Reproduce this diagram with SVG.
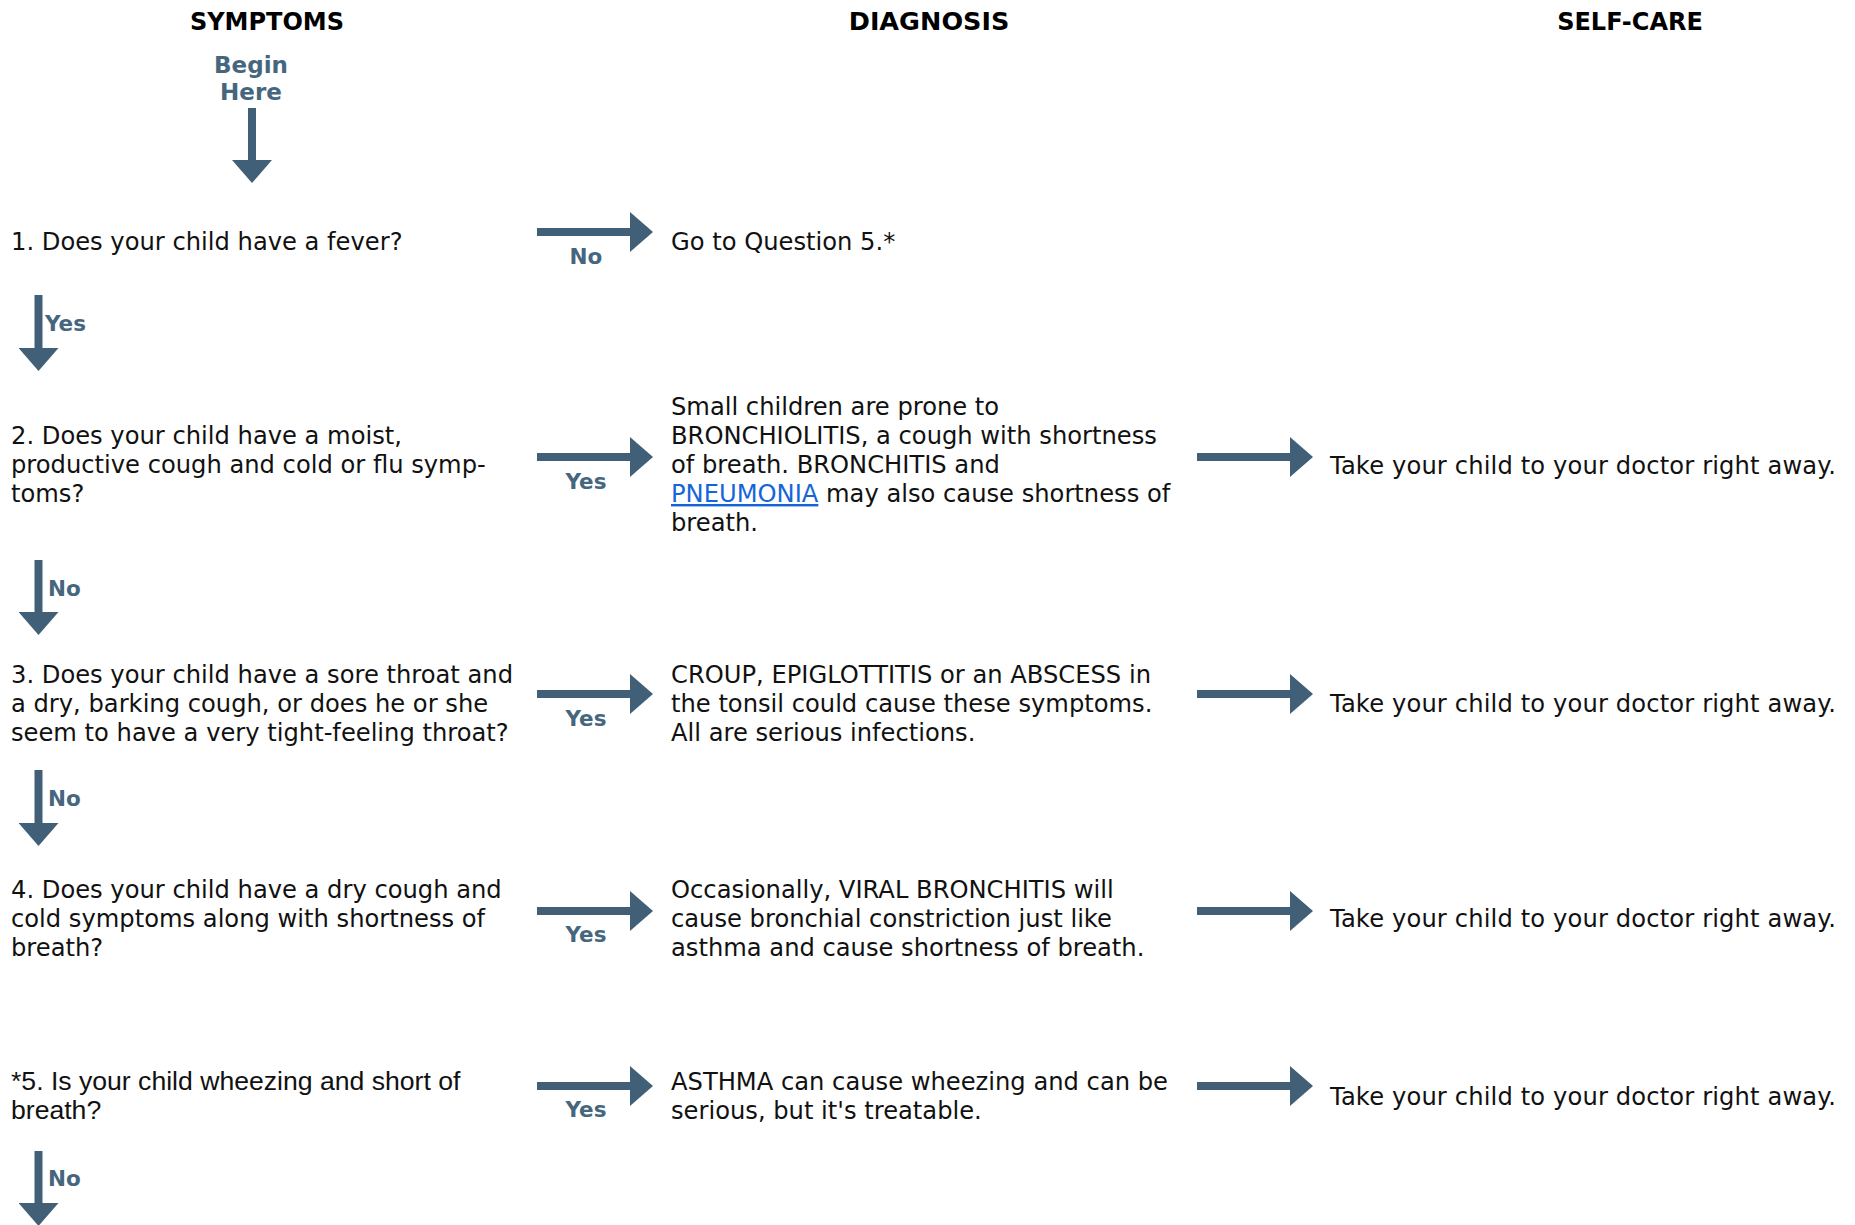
<svg xmlns="http://www.w3.org/2000/svg" width="1855" height="1225" viewBox="0 0 1855 1225">
<style>
.hd{font-family:"DejaVu Sans",Verdana,sans-serif;font-weight:bold;font-size:24px;fill:#000;text-anchor:middle}
.t{font-family:"DejaVu Sans",Verdana,sans-serif;font-size:24.2px;fill:#111}
.a5{font-family:"Liberation Sans",Arial,sans-serif;font-size:26.6px;fill:#111}
.lb{font-family:"DejaVu Sans",Tahoma,sans-serif;font-weight:bold;font-size:21.5px;fill:#46667e}
.lbc{text-anchor:middle}
.lnk{fill:#1565d8;text-decoration:underline}
.ar{stroke:#416078;stroke-width:8;fill:none;marker-end:url(#ah)}
</style>
<defs>
<marker id="ah" markerUnits="userSpaceOnUse" markerWidth="23" markerHeight="40" refX="0" refY="20" orient="auto">
<path d="M0,0 L23,20 L0,40 Z" fill="#416078"/>
</marker>
</defs>
<rect width="1855" height="1225" fill="#fff"/>
<g id="headers">
<text class="hd" x="267" y="30">SYMPTOMS</text>
<text class="hd" x="929" y="30" style="font-size:25.5px">DIAGNOSIS</text>
<text class="hd" x="1630" y="30">SELF-CARE</text>
</g>
<g id="begin">
<text class="lb lbc" x="251" y="73" style="font-size:23px">Begin</text>
<text class="lb lbc" x="251" y="100" style="font-size:23px">Here</text>
</g>
<g id="q1"><text class="t" x="11" y="250">1. Does your child have a fever?</text></g>
<g id="d1"><text class="t" x="671" y="250">Go to Question 5.*</text></g>
<g id="q2"><text class="t" x="11" y="444">2. Does your child have a moist,<tspan x="11" y="473">productive cough and cold or flu symp-</tspan><tspan x="11" y="502">toms?</tspan></text></g>
<g id="d2"><text class="t" x="671" y="415">Small children are prone to<tspan x="671" y="444">BRONCHIOLITIS, a cough with shortness</tspan><tspan x="671" y="473">of breath. BRONCHITIS and</tspan><tspan x="671" y="502"><tspan class="lnk">PNEUMONIA</tspan> may also cause shortness of</tspan><tspan x="671" y="531">breath.</tspan></text></g>
<g id="s2"><text class="t" x="1330" y="474" textLength="506">Take your child to your doctor right away.</text></g>
<g id="q3"><text class="t" x="11" y="683">3. Does your child have a sore throat and<tspan x="11" y="712">a dry, barking cough, or does he or she</tspan><tspan x="11" y="741">seem to have a very tight-feeling throat?</tspan></text></g>
<g id="d3"><text class="t" x="671" y="683">CROUP, EPIGLOTTITIS or an ABSCESS in<tspan x="671" y="712">the tonsil could cause these symptoms.</tspan><tspan x="671" y="741">All are serious infections.</tspan></text></g>
<g id="s3"><text class="t" x="1330" y="712" textLength="506">Take your child to your doctor right away.</text></g>
<g id="q4"><text class="t" x="11" y="898">4. Does your child have a dry cough and<tspan x="11" y="927">cold symptoms along with shortness of</tspan><tspan x="11" y="956">breath?</tspan></text></g>
<g id="d4"><text class="t" x="671" y="898">Occasionally, VIRAL BRONCHITIS will<tspan x="671" y="927">cause bronchial constriction just like</tspan><tspan x="671" y="956">asthma and cause shortness of breath.</tspan></text></g>
<g id="s4"><text class="t" x="1330" y="927" textLength="506">Take your child to your doctor right away.</text></g>
<g id="q5"><text class="a5" x="11" y="1090">*5. Is your child wheezing and short of<tspan x="11" y="1119">breath?</tspan></text></g>
<g id="d5"><text class="t" x="671" y="1090">ASTHMA can cause wheezing and can be<tspan x="671" y="1119">serious, but it's treatable.</tspan></text></g>
<g id="s5"><text class="t" x="1330" y="1105" textLength="506">Take your child to your doctor right away.</text></g>
<g id="connectors">
<line class="ar" x1="252" y1="108" x2="252" y2="160"/>
<line class="ar" x1="537" y1="232" x2="630" y2="232"/>
<text class="lb lbc" x="586" y="264">No</text>
<line class="ar" x1="38.5" y1="295" x2="38.5" y2="348"/>
<text class="lb" x="45" y="331">Yes</text>
<line class="ar" x1="537" y1="457" x2="630" y2="457"/>
<text class="lb lbc" x="586" y="489">Yes</text>
<line class="ar" x1="1197" y1="457" x2="1290" y2="457"/>
<line class="ar" x1="38.5" y1="560" x2="38.5" y2="612"/>
<text class="lb" x="48" y="596">No</text>
<line class="ar" x1="537" y1="694" x2="630" y2="694"/>
<text class="lb lbc" x="586" y="726">Yes</text>
<line class="ar" x1="1197" y1="694" x2="1290" y2="694"/>
<line class="ar" x1="38.5" y1="770" x2="38.5" y2="823"/>
<text class="lb" x="48" y="806">No</text>
<line class="ar" x1="537" y1="911" x2="630" y2="911"/>
<text class="lb lbc" x="586" y="942">Yes</text>
<line class="ar" x1="1197" y1="911" x2="1290" y2="911"/>
<line class="ar" x1="537" y1="1086" x2="630" y2="1086"/>
<text class="lb lbc" x="586" y="1117">Yes</text>
<line class="ar" x1="1197" y1="1086" x2="1290" y2="1086"/>
<line class="ar" x1="38.5" y1="1151" x2="38.5" y2="1203"/>
<text class="lb" x="48" y="1186">No</text>
</g>
</svg>
